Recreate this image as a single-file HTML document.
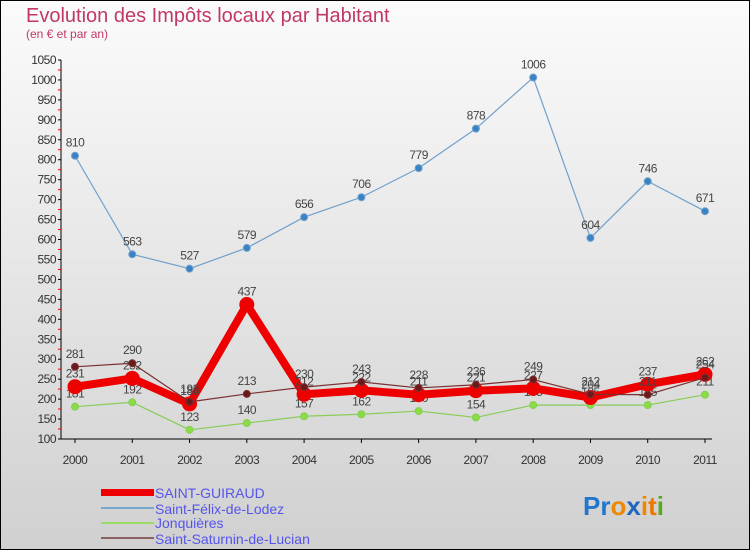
<!DOCTYPE html>
<html><head><meta charset="utf-8">
<style>
html,body{margin:0;padding:0}
body{width:750px;height:550px;overflow:hidden;font-family:"Liberation Sans",sans-serif}
svg text{font-family:"Liberation Sans",sans-serif}
</style></head>
<body>
<svg id="chart" width="750" height="550" xmlns="http://www.w3.org/2000/svg">
<defs>
<linearGradient id="bg" x1="0" y1="0" x2="0" y2="1">
<stop offset="0" stop-color="#fbfbfb"/><stop offset="1" stop-color="#d0d0d0"/>
</linearGradient>
</defs>
<rect x="0.5" y="0.5" width="749" height="549" fill="url(#bg)" stroke="#000"/>
<text x="26" y="22" font-size="20" fill="#c0386a">Evolution des Impôts locaux par Habitant</text>
<text x="26" y="38" font-size="12" fill="#c0386a">(en € et par an)</text>
<g id="axes"></g>
<g id="series"></g>
<g id="legend">
<rect x="101" y="489" width="53" height="7" fill="#ee0000"/>
<text x="155" y="498" font-size="14" fill="#5555ee">SAINT-GUIRAUD</text>
<rect x="101" y="507" width="53" height="2" fill="#7aa8cc"/>
<text x="155" y="514" font-size="14" fill="#5555ee">Saint-Félix-de-Lodez</text>
<rect x="101" y="522" width="53" height="2" fill="#99dd66"/>
<text x="155" y="528" font-size="14" fill="#5555ee">Jonquières</text>
<rect x="101" y="537" width="53" height="2" fill="#8a6060"/>
<text x="155" y="544" font-size="14" fill="#5555ee">Saint-Saturnin-de-Lucian</text>
</g>
<text x="583" y="515" font-size="26" font-weight="bold"><tspan fill="#2277cc">Pr</tspan><tspan fill="#ee8800">o</tspan><tspan fill="#2266bb">x</tspan><tspan fill="#ee8800">i</tspan><tspan fill="#ee7700">t</tspan><tspan fill="#55aa22">i</tspan></text>
</svg>
<script>
const years=["2000","2001","2002","2003","2004","2005","2006","2007","2008","2009","2010","2011"];
const yTicks=[100,150,200,250,300,350,400,450,500,550,600,650,700,750,800,850,900,950,1000,1050];
const saintGuiraud=[231,252,188,437,212,222,211,221,227,204,237,262];
const saintFelix=[810,563,527,579,656,706,779,878,1006,604,746,671];
const jonquieres=[181,192,123,140,157,162,170,154,185,185,185,211];
const saintSaturnin=[281,290,193,213,230,243,228,236,249,212,211,254];
const NS="http://www.w3.org/2000/svg";
const xs=i=>75+i*(630/11);
const ys=v=>439-(v-100)*(379/950);
function mk(tag,attrs,parent){const e=document.createElementNS(NS,tag);for(const k in attrs)e.setAttribute(k,attrs[k]);parent.appendChild(e);return e;}
const ax=document.getElementById('axes');
let a=mk('line',{x1:61,y1:ys(1050),x2:61,y2:439,stroke:'#000'},ax);


a=mk('line',{x1:61,y1:439,x2:712,y2:439,stroke:'#000'},ax);


yTicks.forEach((v,i)=>{
  const y=ys(v);
  mk('line',{x1:58,y1:y,x2:61,y2:y,stroke:'#000'},ax);
  if(i<yTicks.length-1){mk('line',{x1:58,y1:y-10,x2:61,y2:y-10,stroke:'#e00'},ax);}
  const t=mk('text',{x:56,y:y+4,'font-size':12,'text-anchor':'end',fill:'#333','letter-spacing':'-0.5'},ax);
  t.textContent=v;
  
  
});
years.forEach((yr,i)=>{
  const x=xs(i);
  mk('line',{x1:x,y1:439,x2:x,y2:443,stroke:'#000'},ax);
  const t=mk('text',{x:x,y:464,'font-size':12,'text-anchor':'middle',fill:'#333','letter-spacing':'-0.5'},ax);
  t.textContent=yr;
  
  
});
const sg=document.getElementById('series');
function draw(name,data,color,w,r,dot){
  const g=mk('g',{},sg);
  
  
  const p=mk('polyline',{points:data.map((v,i)=>xs(i)+','+ys(v)).join(' '),fill:'none',stroke:color,'stroke-width':w,'stroke-linejoin':'round'},g);
  
  
  data.forEach((v,i)=>{
    const c=mk('circle',{cx:xs(i),cy:ys(v),r:r,fill:dot,stroke:color,'stroke-width':1},g);
    
    
    const t=mk('text',{x:xs(i),y:ys(v)-9,'font-size':12,'text-anchor':'middle',fill:'#444','letter-spacing':'-0.5'},g);
    t.textContent=v;
    
    
  });
}
draw('saint-felix',saintFelix,'#6fa0cc',1.2,3.5,'#3b82c4');
draw('jonquieres',jonquieres,'#88cc55',1.2,3.5,'#88dd44');
draw('saint-guiraud',saintGuiraud,'#ee0000',8,7,'#ee0000');
draw('saint-saturnin',saintSaturnin,'#7a3030',1.2,3.5,'#6a1a1a');
</script>
</body></html>
